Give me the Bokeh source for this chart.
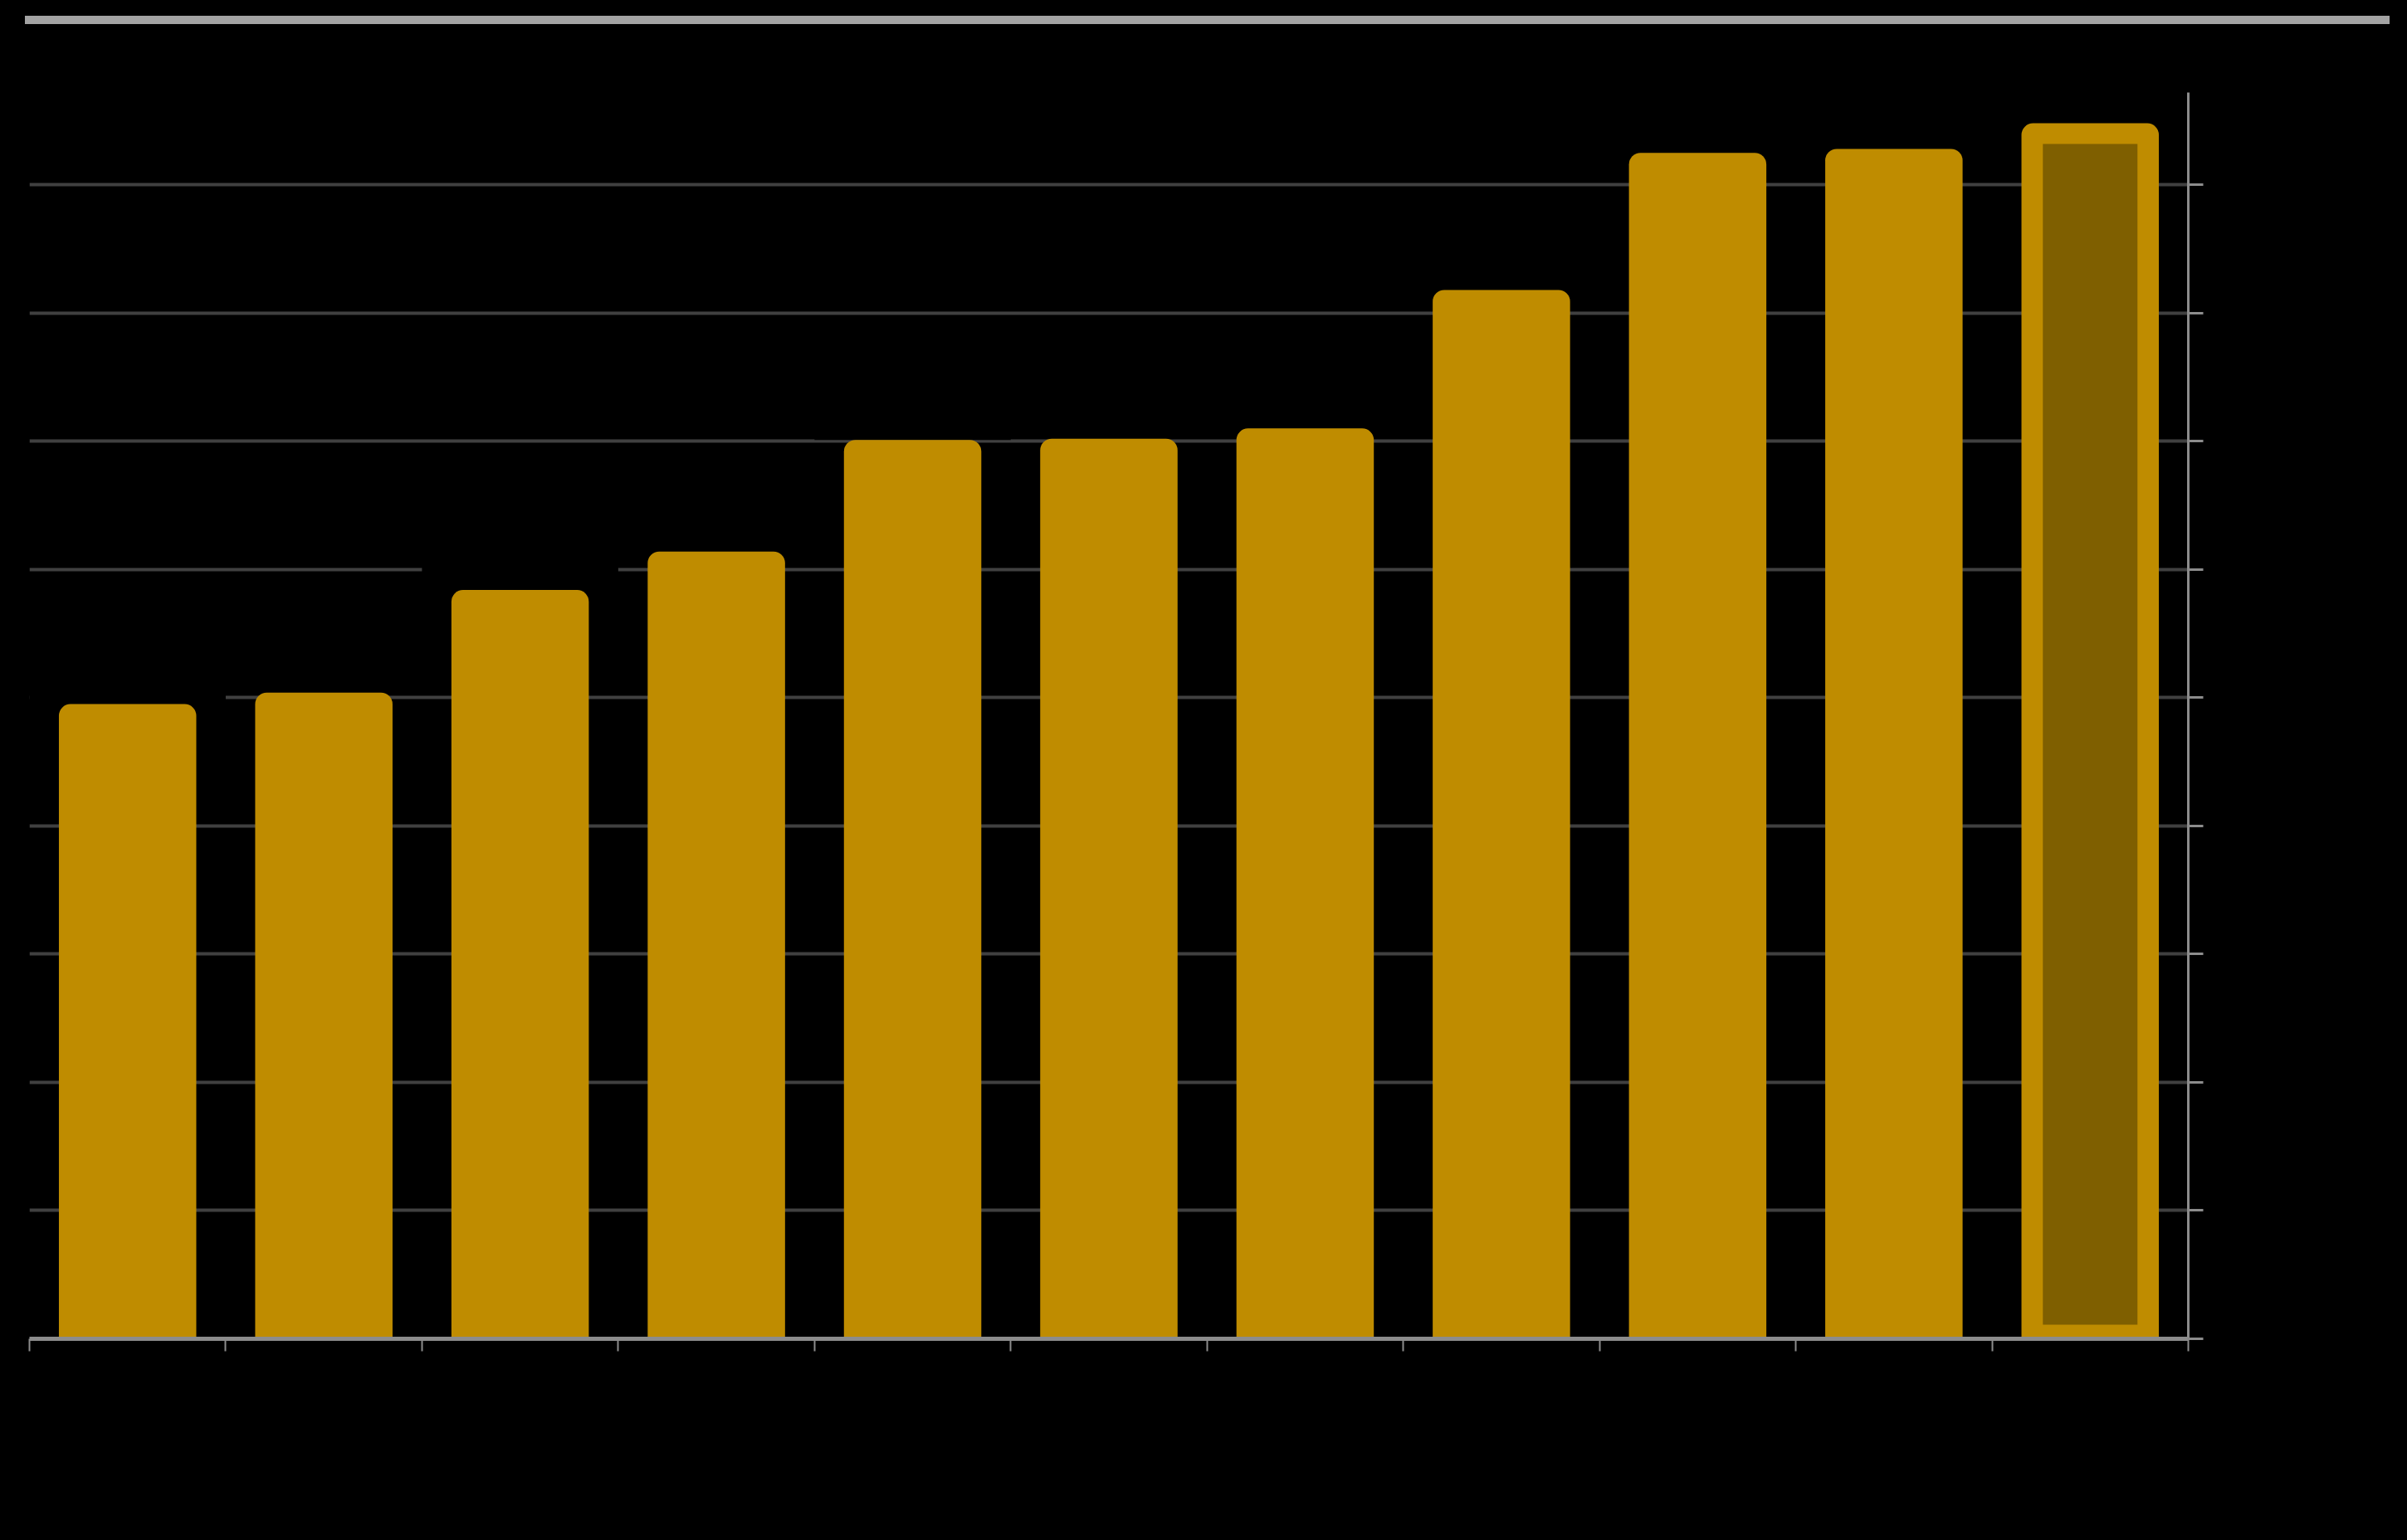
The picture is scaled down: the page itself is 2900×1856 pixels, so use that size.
from bokeh.plotting import figure
from bokeh.layouts import column
from bokeh.models import ColumnDataSource, FixedTicker, Range1d, Div, CustomJSTickFormatter
from bokeh.embed import file_html
from bokeh.resources import INLINE

# ---- data ----
positions = [0.5, 1.5, 2.5, 3.5, 4.5, 5.5, 6.5, 7.5, 8.5, 9.5, 10.5]
values = [49.5, 50.4, 58.4, 61.4, 70.1, 70.2, 71.0, 81.8, 92.5, 92.8, 94.8]
highlight_index = 10
y_ticks = [0, 10, 20, 30, 40, 50, 60, 70, 80, 90]
x_ticks = [0, 1, 2, 3, 4, 5, 6, 7, 8, 9, 10, 11]
y_max = 97.2

GOLD = "#BF8C00"
DARK = "#7F5F00"
AXIS = "#8C8C8C"
GRID = "#404040"

FRAME_W, FRAME_H = 2601, 1502
px_per_unit = FRAME_H / y_max

# ---- top grey rule ----
rule = Div(text="", width=2849, height=10, margin=(19, 0, 0, 30),
           styles={"background-color": "#A3A3A3"})

# ---- main chart ----
p = figure(frame_width=FRAME_W, frame_height=FRAME_H,
           x_range=Range1d(0, len(values)), y_range=Range1d(0, y_max),
           y_axis_location="right", toolbar_location=None, output_backend="svg",
           background_fill_color="black", border_fill_color="black",
           outline_line_color=None,
           min_border_left=35, min_border_top=82, min_border_right=40,
           min_border_bottom=100, margin=(0, 0, 0, 0))

src = ColumnDataSource(dict(x=positions, top=values))

# black label boxes sitting on top of each bar (hide the grid behind them)
box_src = ColumnDataSource(dict(x=positions, bottom=values,
                                top=[v + 3.5 for v in values]))
p.vbar(x="x", bottom="bottom", top="top", width=1.0, source=box_src,
       fill_color="black", line_color=None)

p.vbar(x="x", top="top", bottom=0, width=0.7, source=src,
       fill_color=GOLD, line_color=None, border_radius=(14, 14, 0, 0))

# highlighted last bar: darker inner panel
hv = values[highlight_index]
p.vbar(x=[positions[highlight_index]], top=[hv - 25 / px_per_unit],
       bottom=[17 / px_per_unit], width=0.482,
       fill_color=DARK, line_color=None)

# grid
p.xgrid.grid_line_color = None
p.ygrid.ticker = FixedTicker(ticks=y_ticks)
p.ygrid.grid_line_color = GRID
p.ygrid.grid_line_width = 4

# x axis
xa = p.xaxis[0]
xa.ticker = FixedTicker(ticks=x_ticks)
xa.formatter = CustomJSTickFormatter(code="return '';")
xa.axis_line_color = AXIS
xa.axis_line_width = 5
xa.major_tick_line_color = AXIS
xa.major_tick_line_width = 2
xa.major_tick_out = 15
xa.major_tick_in = 0
xa.minor_tick_line_color = None

# y axis (right)
ya = p.yaxis[0]
ya.ticker = FixedTicker(ticks=y_ticks)
ya.formatter = CustomJSTickFormatter(code="return '';")
ya.axis_line_color = AXIS
ya.axis_line_width = 3
ya.major_tick_line_color = AXIS
ya.major_tick_line_width = 3
ya.major_tick_out = 18
ya.major_tick_in = 0
ya.minor_tick_line_color = None

layout = column(rule, p, spacing=0)

html = file_html(layout, INLINE)
html = html.replace("</head>",
                    "<style>html, body { background-color: #000000 !important; }</style></head>", 1)
open("out.html", "w").write(html)
